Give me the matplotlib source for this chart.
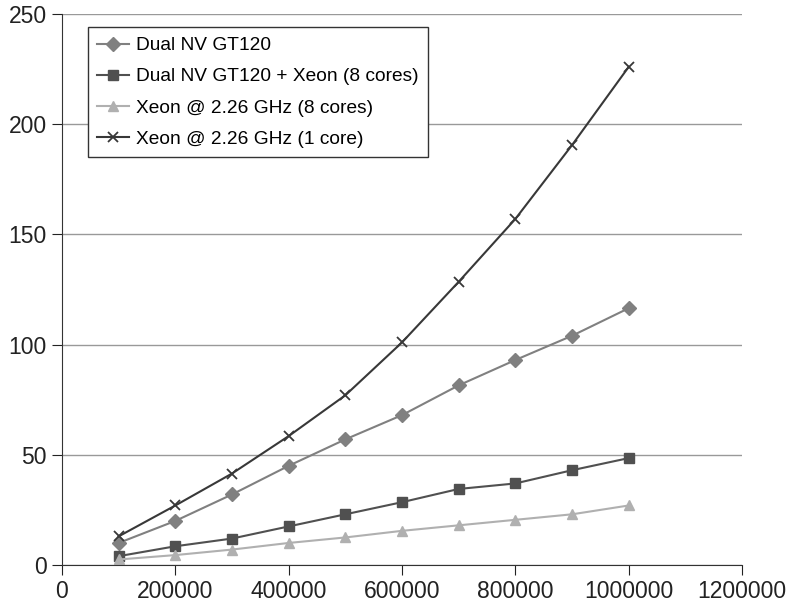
import matplotlib.pyplot as plt

plt.rcParams['font.family'] = ['Liberation Sans', 'DejaVu Sans']

sizes = [100000, 200000, 300000, 400000, 500000, 600000, 700000, 800000, 900000, 1000000]
dual_nv = [10, 20, 32, 45, 57, 68, 81.5, 93, 104, 116.5]
dual_nv_xeon = [4, 8.5, 12, 17.5, 23, 28.5, 34.5, 37, 43, 48.5]
xeon_8 = [2.5, 4.5, 7, 10, 12.5, 15.5, 18, 20.5, 23, 27]
xeon_1 = [13, 27, 41.5, 58.5, 77, 101, 128.5, 157, 190.5, 226]

fig = plt.figure(figsize=(7.89, 6.11), dpi=100)
ax = fig.add_axes([62 / 789, 46 / 611, 680 / 789, 551 / 611])

ax.plot(sizes, dual_nv, color='#808080', marker='D', ms=7, lw=1.5, label='Dual NV GT120')
ax.plot(sizes, dual_nv_xeon, color='#505050', marker='s', ms=7, lw=1.5, label='Dual NV GT120 + Xeon (8 cores)')
ax.plot(sizes, xeon_8, color='#b0b0b0', marker='^', ms=7, lw=1.5, label='Xeon @ 2.26 GHz (8 cores)')
ax.plot(sizes, xeon_1, color='#383838', marker='x', ms=7.5, mew=1.3, lw=1.5, label='Xeon @ 2.26 GHz (1 core)')

ax.set_xlim(0, 1200000)
ax.set_ylim(0, 250)
ax.set_xticks(range(0, 1200001, 200000))
ax.set_yticks(range(0, 251, 50))
ax.ticklabel_format(style='plain', useOffset=False)
ax.yaxis.grid(True, color='#999999', lw=1)
ax.set_axisbelow(True)
for s in ['top', 'right']:
    ax.spines[s].set_visible(False)
ax.spines['left'].set_color('#333333')
ax.spines['bottom'].set_color('#333333')
ax.tick_params(colors='#222222', labelsize=16.5, length=7, direction='out', pad=4)

leg = ax.legend(loc='upper left', bbox_to_anchor=(0.038, 0.976), fontsize=13.8,
                frameon=True, fancybox=False, edgecolor='#333333', framealpha=1,
                handlelength=1.65, handletextpad=0.35, labelspacing=0.72, borderpad=0.5,
                borderaxespad=0)
leg.get_frame().set_linewidth(1)

fig.savefig('out.png', dpi=100)
